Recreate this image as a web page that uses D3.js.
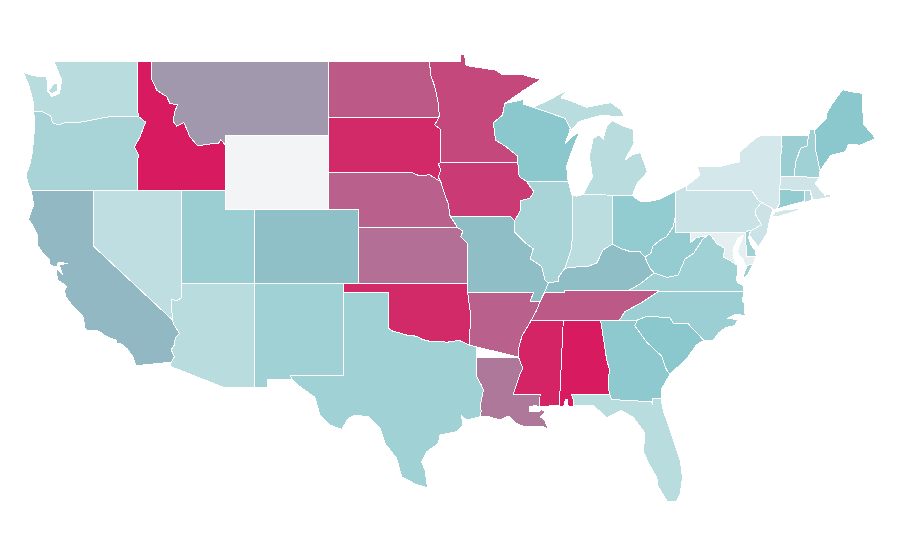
<!DOCTYPE html>
<html><head><meta charset="utf-8">
<script src="https://cdn.jsdelivr.net/npm/d3@7/dist/d3.min.js"></script>
<style>html,body{margin:0;background:#fff}svg{display:block}</style>
</head><body><svg id="map" width="900" height="560"></svg>
<script>
const stateCodes = ["WA","OR","CA","NV","ID","MT","WY","UT","CO","AZ","NM","ND","SD","NE","KS","OK","TX","MN","IA","MO","AR","LA","WI","IL","IN","MI","OH","KY","TN","MS","AL","GA","FL","SC","NC","VA","WV","PA","NY","VT","NH","ME","MA","CT","RI","NJ","DE","MD"];
const stateValues = [27.7,36,54.6,24.8,100,64,0,43,52.6,27.7,40,82,96,80,75.7,96,40,87,91,53,80,73,50,36,26.7,27.7,46.6,53,82,97.5,100,49,27.7,50,41.7,40,45,20,15,42.7,40,50,18,46.6,32,19,40,6.8];
const colorStops = ["#f3f4f6","#8bc8cd","#d81b60"];
const valueStops = [0,50,100];

// Shared borders, in longitude / latitude
const borders = {
 wa_or:[[-124.05,46.27],[-123.5,46.27],[-123.2,46.15],[-122.9,46.05],[-122.75,45.65],[-122.3,45.55],[-121.9,45.68],[-121.2,45.65],[-120.6,45.73],[-120,45.82],[-119.4,45.92],[-119,45.95],[-118.98,46],[-116.92,46]],
 or_id:[[-116.92,46],[-116.45,45.7],[-116.83,44.9],[-117.2,44.37],[-116.9,43.87],[-117.03,43.6],[-117.03,42]],
 id_mt:[[-116.05,49],[-116.05,48.05],[-115.7,47.43],[-115.02,47.07],[-114.8,46.7],[-114.3,46.63],[-114.5,46.18],[-114.57,45.72],[-114.34,45.48],[-113.85,45.67],[-113.45,44.9],[-112.9,44.4],[-112.3,44.5],[-111.5,44.55],[-111.37,44.75],[-111.05,44.48]],
 ca_az:[[-114.63,35],[-114.57,34.8],[-114.15,34.27],[-114.43,34.05],[-114.53,33.6],[-114.72,33.4],[-114.5,33],[-114.72,32.72]],
 nv_az:[[-114.05,37],[-114.05,36.2],[-114.3,36.05],[-114.7,36.1],[-114.7,35.6],[-114.6,35.1],[-114.63,35]],
 nd_mn:[[-97.22,49],[-97.1,48.2],[-96.84,47.6],[-96.6,46.7],[-96.55,46.17],[-96.56,45.94]],
 sd_mn:[[-96.56,45.94],[-96.85,45.55],[-96.45,45.3],[-96.45,43.5]],
 sd_ia:[[-96.45,43.5],[-96.6,43.45],[-96.45,43.1],[-96.6,42.7],[-96.45,42.5]],
 sd_ne:[[-104.05,43],[-98.5,43],[-97.9,42.8],[-97.2,42.85],[-96.7,42.6],[-96.45,42.5]],
 ne_ia:[[-96.45,42.5],[-96.25,42],[-96.1,41.65],[-95.9,41.2],[-95.85,40.7],[-95.77,40.58]],
 ne_mo:[[-95.77,40.58],[-95.3,40]],
 ks_mo:[[-95.3,40],[-94.93,39.8],[-95.1,39.5],[-94.6,39.1],[-94.62,37]],
 ok_tx:[[-100,34.56],[-99.7,34.4],[-99.2,34.3],[-98.6,34.15],[-98.1,34.13],[-97.7,33.95],[-97.2,33.85],[-96.6,33.85],[-96,33.8],[-95.2,33.9],[-94.48,33.64]],
 ok_ar:[[-94.62,36.5],[-94.43,35.4],[-94.48,33.64]],
 tx_la:[[-94.04,33],[-94.04,32],[-93.7,31.5],[-93.55,31.2],[-93.75,30.4],[-93.7,30.05],[-93.78,29.77]],
 mn_wi:[[-92.1,46.7],[-92.25,46.08],[-92.87,45.67],[-92.73,44.73],[-92.02,44.37],[-91.25,43.87],[-91.22,43.5]],
 ia_wi:[[-91.22,43.5],[-91.12,42.75],[-90.64,42.5]],
 ia_il:[[-90.64,42.5],[-90.12,41.93],[-90.39,41.58],[-91.02,41.45],[-91.02,40.95],[-91.42,40.38]],
 il_mo:[[-91.42,40.38],[-91.42,39.75],[-90.75,39.2],[-90.17,38.85],[-90.37,38.3],[-89.6,37.9],[-89.37,37.15],[-89.15,37]],
 il_ky:[[-89.15,37],[-88.47,37.1],[-88.47,37.3],[-88.02,37.8]],
 il_in:[[-87.53,41.72],[-87.53,39.35],[-87.6,38.8],[-88.02,37.8]],
 in_ky:[[-88.02,37.8],[-87.1,37.88],[-86.55,37.88],[-85.87,38.07],[-85.42,38.8],[-84.8,39.1]],
 oh_ky:[[-84.8,39.1],[-84.17,38.85],[-83.6,38.7],[-82.93,38.7],[-82.6,38.4]],
 oh_wv:[[-82.6,38.4],[-82.2,38.6],[-82.05,39],[-81.6,39.3],[-81.13,39.5],[-80.67,40.05],[-80.52,40.64]],
 ky_wv:[[-82.6,38.4],[-82.25,37.8],[-81.97,37.54]],
 ky_va:[[-81.97,37.54],[-82.93,36.95],[-83.68,36.6]],
 mo_ky:[[-89.15,37],[-89.4,36.5]],
 mo_tn:[[-89.4,36.5],[-89.7,36]],
 mo_ar:[[-94.62,36.5],[-90.15,36.5],[-90.37,36],[-89.7,36]],
 ar_tn:[[-89.7,36],[-89.95,35.5],[-90.16,35.2],[-90.3,35]],
 ar_ms:[[-90.3,35],[-90.5,34.7],[-90.9,34.2],[-91.07,33.75],[-91.2,33.3],[-91.17,33]],
 la_ms:[[-91.17,33],[-90.88,32.4],[-91.1,32],[-91.52,31]],
 ms_al:[[-88.13,35],[-88.4,30.35]],
 al_ga:[[-85.6,35],[-85.2,32.9],[-85,32.3],[-85.1,31.6],[-85,31]],
 ga_sc:[[-83.1,35],[-83.3,34.7],[-82.47,33.8],[-81.47,33.05],[-81.13,32.3],[-80.9,32.05]],
 nc_sc:[[-83.1,35],[-82.47,35.2],[-80.9,35.13],[-80.67,34.8],[-79.67,34.8],[-78.6,33.9]],
 nc_tn:[[-81.68,36.55],[-82.7,36],[-83.95,35.45],[-84.32,35]],
 wv_va:[[-81.97,37.54],[-81.1,37.3],[-80.34,37.43],[-79.88,38.3],[-79.3,38.6],[-78.65,39.4],[-78.2,39.65],[-77.75,39.15]],
 md_va:[[-77.75,39.15],[-77.17,38.85],[-77.3,38.4],[-76.9,38.25],[-76.35,37.97]],
 md_wv:[[-79.48,39.72],[-79.48,39.2],[-79.1,39.45],[-78.45,39.55],[-78.2,39.65],[-77.75,39.15]],
 pa_nj:[[-74.7,41.36],[-75.1,40.95],[-75.1,40.7],[-74.7,40.15],[-75.35,39.85],[-75.45,39.8]],
 ny_pa:[[-79.76,42.27],[-79.76,42],[-75.35,42],[-74.9,41.45],[-74.7,41.36]],
 ny_vt:[[-73.35,45],[-73.3,44.37],[-73.42,43.65],[-73.37,42.75]],
 ny_ct:[[-73.47,42.05],[-73.47,41.3],[-73.66,41]],
 vt_nh:[[-71.5,45],[-71.6,44.4],[-72.05,44.28],[-72.4,43.47],[-72.46,42.73]],
 nh_me:[[-71.08,45.28],[-71,44.1],[-70.72,43.07]],
 ma_ct:[[-73.47,42.05],[-71.8,42]],
 ct_ri:[[-71.8,42],[-71.8,41.4]],
 wi_mi:[[-90.17,46.5],[-88,45.9],[-87.65,45.36],[-87.75,45.1]],
 pa_de:[[-75.79,39.72],[-75.6,39.83],[-75.45,39.8]]
};

// State outlines: a string names a shared border, "~" walks it backwards
const outlines = {
 WA:[[[-122.66,49],[-117.03,49],[-117.03,46.4],"~wa_or",[-124.05,46.65],[-124.1,46.9],[-124.2,47.2],[-124.4,47.75],[-124.6,48.1],[-124.73,48.38],[-124.1,48.22],[-123.6,48.15],[-123.14,48.15],[-123.12,47.42],[-122.82,47.07],[-122.3,47.25],[-122.14,47.97],[-122.48,48.6]],[[-123.02,47.4],[-122.65,47.8],[-122.4,47.8],[-122.4,47.4],[-122.8,47.22]]],
 OR:[["wa_or","or_id",[-124.2,42],[-124.4,42.3],[-124.55,42.85],[-124.3,43.4],[-124.15,44],[-124.05,44.7],[-123.95,45.7]]],
 CA:[[[-124.2,42],[-120,42],[-120,39],"ca_az",[-117.12,32.53],[-117.3,33],[-117.7,33.45],[-118.1,33.7],[-118.4,33.75],[-118.4,33.9],[-118.8,34],[-119.2,34.15],[-119.6,34.4],[-120.45,34.45],[-120.6,34.6],[-120.65,35.1],[-120.85,35.35],[-121.35,35.7],[-121.85,36.25],[-121.95,36.6],[-121.8,36.8],[-122,36.95],[-122.4,37.15],[-122.5,37.5],[-122.45,37.75],[-122.1,37.5],[-122.3,38],[-121.7,38.05],[-122.35,38.12],[-122.5,37.85],[-122.95,38],[-123,38.3],[-123.35,38.55],[-123.75,39],[-123.8,39.6],[-124.1,40.1],[-124.4,40.45],[-124.05,41.2],[-124.1,41.5]]],
 NV:[[[-120,42],[-114.05,42],"nv_az",[-120,39]]],
 ID:[[[-117.03,49],"id_mt",[-111.05,42],"~or_id",[-117.03,46.4]]],
 MT:[[[-116.05,49],[-104.05,49],[-104.05,45],[-111.05,45],"~id_mt"]],
 WY:[[[-111.05,45],[-104.05,45],[-104.05,41],[-111.05,41]]],
 UT:[[[-114.05,42],[-111.05,42],[-111.05,41],[-109.05,41],[-109.05,37],[-114.05,37]]],
 CO:[[[-109.05,41],[-102.05,41],[-102.05,37],[-109.05,37]]],
 AZ:[[[-114.05,37],[-109.05,37],[-109.05,31.33],[-111.07,31.33],[-114.8,32.5],"~ca_az","~nv_az"]],
 NM:[[[-109.05,37],[-103,37],[-103.04,32],[-106.62,32],[-106.53,31.78],[-108.2,31.78],[-108.2,31.33],[-109.05,31.33]]],
 ND:[[[-104.05,49],"nd_mn",[-104.05,45.94]]],
 SD:[[[-104.05,45.94],"sd_mn","sd_ia","~sd_ne"]],
 NE:[["sd_ne","ne_ia","ne_mo",[-102.05,40],[-102.05,41],[-104.05,41]]],
 KS:[[[-102.05,40],"ks_mo",[-102.05,37]]],
 OK:[[[-103,37],[-94.62,37],"ok_ar","~ok_tx",[-100,36.5],[-103,36.5]]],
 TX:[[[-103,36.5],[-100,36.5],"ok_tx",[-94.04,33.55],"tx_la",[-94.68,29.59],[-95.02,29.81],[-94.95,29.32],[-95.36,28.96],[-96.5,28.78],[-96.6,28.33],[-97.39,27.88],[-97.73,27.34],[-97.51,26.89],[-97.33,25.92],[-98.19,26.14],[-99.09,26.53],[-99.43,27.52],[-100.22,28.33],[-100.56,29.15],[-101.35,29.77],[-102.25,29.86],[-102.71,29.69],[-103.16,29.09],[-103.95,29.32],[-104.63,29.86],[-104.97,30.82],[-105.98,31.39],[-106.53,31.78],[-106.62,32],[-103.04,32]]],
 MN:[[[-97.22,49],[-95.1,49],[-95.1,49.33],[-94.82,49.33],[-94.72,48.75],[-92.65,48.5],[-92.3,48.25],[-90.85,48.25],[-89.67,48],[-90.85,47.4],"mn_wi","~sd_mn","~nd_mn"]],
 IA:[[[-96.45,43.5],"ia_wi","ia_il",[-91.73,40.6],"~ne_ia","~sd_ia"]],
 MO:[[[-95.77,40.58],[-91.73,40.6],"il_mo","mo_ky","mo_tn","~mo_ar","~ks_mo","~ne_mo"]],
 AR:[["mo_ar","ar_tn","ar_ms",[-94.04,33.55],"~ok_ar"]],
 LA:[[[-94.04,33],"la_ms",[-89.7,31],[-89.75,30.3],[-90,30.37],[-90.4,30.32],[-90.42,30.05],[-89.85,30.03],[-89.6,30.15],[-89.37,30.04],[-89.71,29.77],[-89.4,29.6],[-89.15,29.09],[-89.5,29.25],[-90.17,29.23],[-90.73,29.23],[-91.3,29.4],[-91.86,29.81],[-92.42,29.59],[-93.2,29.78],"~tx_la"]],
 WI:[[[-92.1,46.7],[-91.2,46.85],[-90.8,46.95],[-90.8,46.65],"wi_mi",[-88,44.55],[-87.55,44.9],[-87,45.2],[-87.45,44.37],[-87.9,43.3],[-87.8,42.5],[-90.64,42.5],"~ia_wi","~mn_wi"]],
 IL:[[[-90.64,42.5],[-87.8,42.5],[-87.6,41.9],"il_in","~il_ky","~il_mo","~ia_il"]],
 IN:[[[-87.53,41.72],[-87.2,41.7],[-86.8,41.78],[-84.8,41.75],"~in_ky","~il_in"]],
 MI:[[[-90.17,46.5],[-89.2,46.85],[-88.4,47.2],[-87.8,47.45],[-88.3,47],[-87.8,46.9],[-86.55,46.5],[-85.3,46.7],[-84.9,46.75],[-84.2,46.35],[-84,46],[-84.7,46],[-85.42,46.08],[-86.55,45.85],[-87.1,45.7],"~wi_mi"],[[-86.8,41.78],[-86.15,42.75],[-86.37,43.83],[-86.1,44.82],[-85.7,45],[-85.42,44.8],[-85.2,45.45],[-84.8,45.77],[-84.1,45.5],[-83.4,45.3],[-83.33,44.55],[-83.95,43.65],[-83.4,43.95],[-82.9,44.05],[-82.42,43],[-83.15,42.35],[-83.45,41.72],[-84.8,41.75]]],
 OH:[[[-84.8,41.72],[-83.45,41.72],[-82.93,41.42],[-82.25,41.42],[-81.6,41.52],[-80.9,41.82],[-80.52,41.97],"~oh_wv","~oh_ky"]],
 KY:[["in_ky","oh_ky","ky_wv","ky_va",[-88.07,36.6],[-88.07,36.5],"~mo_ky","il_ky"]],
 TN:[[[-89.4,36.5],[-88.07,36.5],[-88.07,36.6],[-81.68,36.6],"nc_tn",[-88.13,35],[-90.3,35],"~ar_tn","~mo_tn"]],
 MS:[[[-90.3,35],[-88.13,35],"ms_al",[-88.85,30.4],[-89.3,30.3],[-89.75,30.3],[-89.7,31],[-91.52,31],"~la_ms","~ar_ms"]],
 AL:[[[-88.13,35],"al_ga",[-87.6,31],[-87.45,30.7],[-87.42,30.35],[-87.8,30.35],[-87.85,30.7],[-87.98,30.7],[-88.1,30.35],"~ms_al"]],
 GA:[[[-85.6,35],"ga_sc",[-81.45,31.3],[-81.5,30.75],[-82.05,30.75],[-82.05,30.4],[-82.15,30.58],[-84.85,30.7],[-85,31],"~al_ga"]],
 FL:[[[-87.6,31],[-85,31],[-84.85,30.7],[-82.15,30.58],[-82.05,30.4],[-82.05,30.75],[-81.5,30.75],[-81.35,30.1],[-80.8,28.85],[-80.2,27.4],[-80.05,26.5],[-80.2,25.6],[-80.45,25.2],[-81.1,25.2],[-81.7,26],[-81.8,26.5],[-82.35,27.25],[-82.7,27.9],[-82.6,28.9],[-83.4,29.75],[-84.2,30.1],[-85.2,29.7],[-86.1,30.4],[-87.42,30.35],[-87.45,30.7]]],
 SC:[["nc_sc",[-79.1,33.65],[-79.77,32.9],[-80.45,32.4],[-80.9,32.05],"~ga_sc"]],
 NC:[[[-81.68,36.55],[-75.87,36.55],[-76,36],[-75.85,35.9],[-75.85,35.6],[-75.8,35.25],[-76.5,35.3],[-76.95,35.1],[-76.3,35],[-76.5,34.7],[-77.1,34.6],[-77.6,34.3],[-77.97,33.9],[-78.6,33.9],"~nc_sc",[-84.32,35],"~nc_tn"]],
 VA:[["wv_va","md_va",[-76.3,37.6],[-76.4,37.2],[-76.3,37],[-75.97,36.9],[-75.87,36.55],[-81.68,36.55],[-81.68,36.6],[-83.68,36.6],"~ky_va"],[[-75.95,37.15],[-75.85,37.6],[-75.65,37.95],[-75.25,38.03],[-75.6,37.5]]],
 WV:[[[-80.52,40.64],[-80.52,39.72],"md_wv","~wv_va","~ky_wv","oh_wv"]],
 PA:[[[-80.52,41.97],"ny_pa","pa_nj","~pa_de",[-80.52,39.72]]],
 NY:[["ny_vt","ny_ct",[-73.9,41],[-74.7,41.36],"~ny_pa",[-79.05,42.7],[-78.87,42.85],[-79.05,43.27],[-77.5,43.3],[-76.2,43.55],[-76.15,44.1],[-75.1,44.82],[-74.7,45]],[[-74.02,40.6],[-73.5,40.6],[-72.5,40.85],[-71.9,41.05],[-72.5,41],[-73.2,40.95],[-73.75,40.85]]],
 NJ:[["pa_nj",[-75.5,39.55],[-75.15,39.2],[-74.9,38.95],[-74.3,39.7],[-74.2,40.2],[-74.05,40.65],[-73.9,41]]],
 DE:[["pa_de",[-75.58,39.45],[-75.4,39.05],[-75.1,38.75],[-75.05,38.45],[-75.7,38.45]]],
 MD:[["md_wv","md_va",[-76.6,38.4],[-76.63,38.78],[-76.29,39.43],[-75.95,39.55],[-76.1,39.2],[-76.3,38.78],[-76.25,38.5],[-75.9,38.24],[-75.85,37.95],[-75.65,37.95],[-75.25,38.03],[-75.05,38.45],[-75.7,38.45],[-75.79,39.72]]],
 CT:[["ma_ct","ct_ri",[-72.5,41.27],[-73.45,41.05],"~ny_ct"]],
 RI:[[[-71.8,42],[-71.4,42],[-71.25,41.5],[-71.8,41.35]]],
 MA:[[[-73.37,42.75],[-70.8,42.72],[-71.05,42.35],[-70.6,41.95],[-70.4,41.75],[-70,41.8],[-70,41.65],[-70.65,41.55],[-71.2,41.5],[-71.4,42],"~ma_ct"]],
 VT:[[[-73.35,45],"vt_nh","~ny_vt"]],
 NH:[[[-71.5,45],[-71.4,45.28],"nh_me",[-70.8,42.72],[-72.46,42.73],"~vt_nh"]],
 ME:[["nh_me",[-70,43.9],[-69,44.1],[-68.8,44.5],[-68,44.45],[-66.95,44.82],[-67.45,45.27],[-67.8,45.63],[-67.83,47.25],[-68.35,47.3],[-69.2,47.45],[-69.97,46.6],[-70.25,46.2],[-70.3,45.9]]]
};

const x = d3.scaleLinear().domain([-111,-66.95]).range([226,875.7]);
const y = d3.scaleLinear().domain([49,25]).range([61,505]);
const color = d3.scaleLinear().domain(valueStops).range(colorStops);
const planar = d3.geoTransform({point(a,b){this.stream.point(x(a),y(b));}});
const path = d3.geoPath(planar);

function walk(ring){
  const out=[];
  ring.forEach(p=>{
    if(typeof p==="string"){
      const rev=p[0]==="~", arc=borders[rev?p.slice(1):p];
      out.push(...(rev?arc.slice().reverse():arc));
    } else out.push(p);
  });
  out.push(out[0]);
  return out;
}
const features = stateCodes.map((c,i)=>({type:"Feature",properties:{code:c,value:stateValues[i]},
  geometry:{type:"MultiPolygon",coordinates:outlines[c].map(r=>[walk(r)])}}));

d3.select("#map").selectAll("path").data(features).join("path")
  .attr("d",path)
  .attr("fill",d=>color(d.properties.value))
  .attr("stroke","#fff").attr("stroke-width",1)
  .attr("shape-rendering","crispEdges");
</script></body></html>
